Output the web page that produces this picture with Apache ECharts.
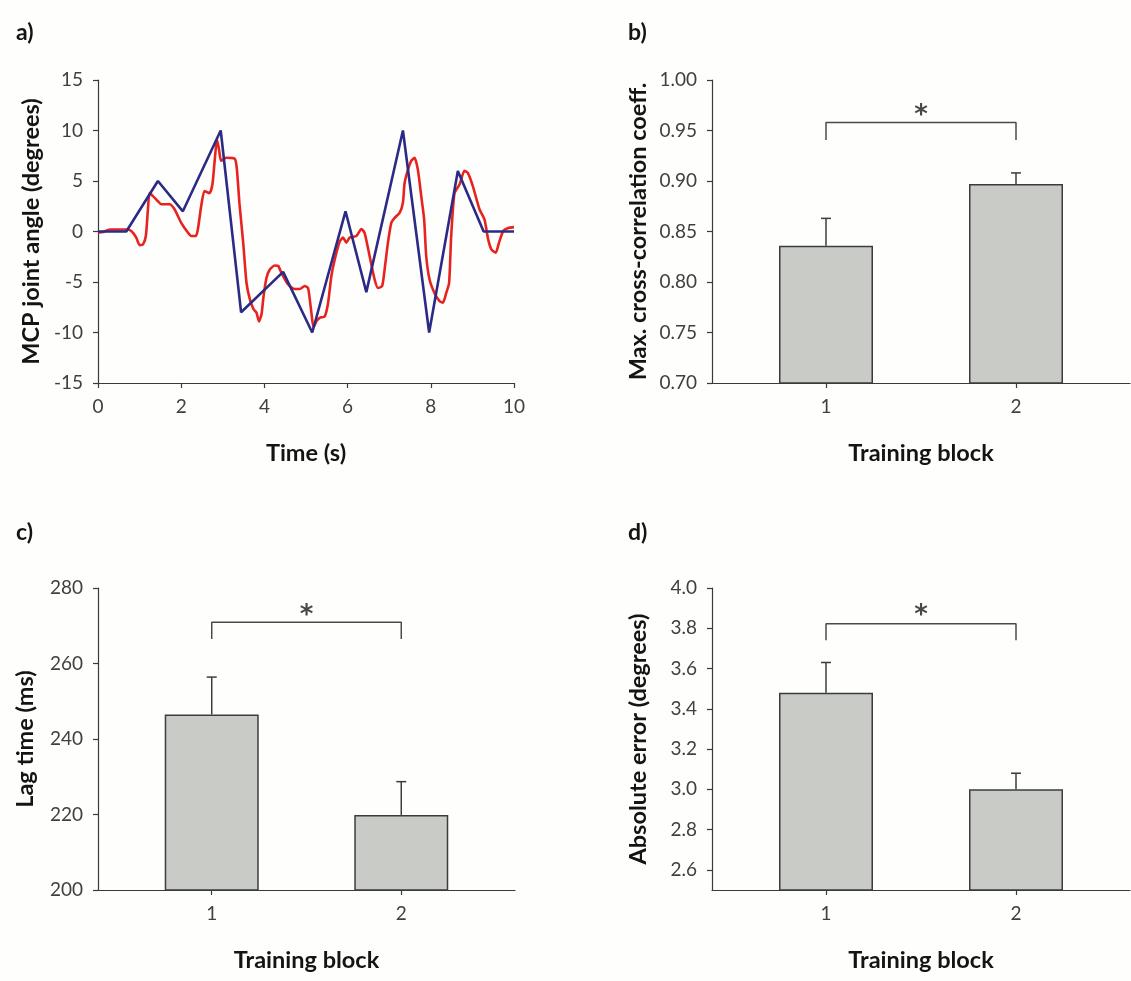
<!DOCTYPE html>
<html>
<head>
<meta charset="utf-8">
<script src="https://cdn.jsdelivr.net/npm/echarts@6/dist/echarts.min.js"></script>
<style>
  html, body { margin: 0; padding: 0; background: #fefefc; }
  #main { width: 1131px; height: 981px; }
</style>
</head>
<body>
<div id="main"></div>
<script>
// panel a: target (blue) and tracking (red) traces
var blueTime = [0, 0.68, 1.44, 2.04, 2.95, 3.44, 4.45, 5.15, 5.95, 6.45, 7.33, 7.96, 8.65, 9.27, 10];
var blueAngle = [0, 0, 5, 2, 10, -8, -4, -10, 2, -6, 10, -10, 6, 0, 0];

var redTime = [0, 0.12, 0.28, 0.68, 0.8, 0.92, 1.0, 1.08, 1.15, 1.2, 1.24, 1.32, 1.44, 1.52, 1.72, 1.84,
  2.0, 2.16, 2.24, 2.35, 2.4, 2.48, 2.56, 2.68, 2.75, 2.8, 2.86, 2.91, 2.96, 3.08, 3.29, 3.34, 3.4,
  3.49, 3.57, 3.65, 3.74, 3.81, 3.87, 3.93, 3.98, 4.05, 4.13, 4.25, 4.33, 4.41, 4.57, 4.73, 4.85,
  4.97, 5.05, 5.13, 5.18, 5.25, 5.33, 5.45, 5.53, 5.61, 5.69, 5.81, 5.89, 5.97, 6.05, 6.21, 6.33,
  6.41, 6.53, 6.65, 6.73, 6.83, 6.89, 6.97, 7.05, 7.13, 7.25, 7.33, 7.37, 7.45, 7.53, 7.61, 7.69,
  7.77, 7.84, 7.89, 7.97, 8.09, 8.21, 8.29, 8.37, 8.44, 8.49, 8.57, 8.69, 8.81, 8.89, 9.01, 9.17,
  9.29, 9.38, 9.46, 9.56, 9.64, 9.74, 9.86, 10];
var redAngle = [-0.1, -0.05, 0.2, 0.2, 0.05, -0.6, -1.35, -1.3, -0.45, 2.2, 3.8, 3.5, 3.0, 2.7, 2.7, 2.2,
  0.86, -0.1, -0.45, -0.45, 0.2, 2.5, 4.0, 3.8, 4.65, 6.8, 9.1, 8.1, 7.0, 7.3, 7.2, 6.1, 2.8,
  -1.1, -5.1, -6.7, -7.7, -8.05, -8.9, -8.2, -6.4, -4.6, -3.76, -3.37, -3.4, -4.1, -5.25, -5.7, -5.7,
  -5.4, -5.6, -8.05, -9.5, -8.9, -8.55, -8.4, -7.1, -4.4, -2.8, -1.0, -0.6, -1.1, -0.6, -0.45, 0.25,
  -0.15, -2.45, -4.75, -5.6, -5.4, -3.76, -1.1, 0.86, 1.35, 1.85, 2.85, 4.8, 6.1, 7.0, 7.3, 6.1,
  3.5, 1.2, -2.45, -4.75, -6.1, -6.9, -7.05, -6.1, -5.1, -0.45, 3.8, 4.65, 6.0, 5.8, 4.5, 2.2,
  1.2, -0.8, -1.8, -2.1, -1.1, 0.05, 0.35, 0.43];

// panels b-d: training blocks
var blocks = [1, 2];
var corrMean = [0.836, 0.897];
var corrErr = [0.027, 0.011];
var lagMean = [246.5, 219.9];
var lagErr = [9.9, 8.8];
var absMean = [3.48, 3.0];
var absErr = [0.15, 0.08];

// significance brackets: [leg bottom, bar top, star height]
var corrSig = [0.9405, 0.958, 0.964];
var lagSig = [266.5, 270.9, 272.6];
var absSig = [3.74, 3.823, 3.86];

var chart = echarts.init(document.getElementById('main'));

var FONT = 'Lato';
var tickText = { color: '#404040', fontFamily: FONT, fontSize: 19 };
var nameText = { color: '#141414', fontFamily: FONT, fontSize: 23.5, fontWeight: 'bold' };
var axisLine = { show: true, onZero: false, lineStyle: { color: '#3a3a3a', width: 1.2 } };
var tickLine = { color: '#3a3a3a', width: 1.2 };

function zip(a, b) {
  return a.map(function (v, i) { return [v, b[i]]; });
}

var grids = [
  { left: 98, top: 80, width: 416, height: 303 },
  { left: 712, top: 80, width: 418, height: 303 },
  { left: 98, top: 588, width: 417, height: 302 },
  { left: 712, top: 588, width: 418, height: 302 }
];

function blockXAxis(idx) {
  return {
    type: 'value', gridIndex: idx, min: 0.4, max: 2.6,
    name: 'Training block', nameLocation: 'middle', nameGap: 58, nameTextStyle: nameText,
    axisLine: axisLine,
    axisTick: { show: true, length: 5, lineStyle: tickLine, customValues: blocks },
    axisLabel: Object.assign({ margin: 14, customValues: blocks }, tickText),
    splitLine: { show: false }
  };
}

var xAxes = [
  {
    type: 'value', gridIndex: 0, min: 0, max: 10, interval: 2,
    name: 'Time (s)', nameLocation: 'middle', nameGap: 58, nameTextStyle: nameText,
    axisLine: axisLine, axisTick: { show: true, length: 5, lineStyle: tickLine },
    axisLabel: Object.assign({ margin: 14 }, tickText),
    splitLine: { show: false }
  },
  blockXAxis(1), blockXAxis(2), blockXAxis(3)
];

function yAxis(idx, name, min, max, interval, dec, gap, custom) {
  var lab = Object.assign({ margin: 15, formatter: function (v) { return v.toFixed(dec); } }, tickText);
  var tick = { show: true, length: 5, lineStyle: tickLine };
  if (custom) { lab.customValues = custom; tick.customValues = custom; }
  return {
    type: 'value', gridIndex: idx, min: min, max: max, interval: interval,
    name: name, nameLocation: 'middle', nameGap: gap, nameTextStyle: nameText,
    axisLine: axisLine, axisTick: tick, axisLabel: lab,
    splitLine: { show: false }
  };
}

var yAxes = [
  yAxis(0, 'MCP joint angle (degrees)', -15, 15, 5, 0, 55),
  yAxis(1, 'Max. cross-correlation coeff.', 0.7, 1.0, 0.05, 2, 62),
  yAxis(2, 'Lag time (ms)', 200, 280, 20, 0, 61),
  yAxis(3, 'Absolute error (degrees)', 2.5, 4.0, 0.1, 1, 62, [2.6, 2.8, 3.0, 3.2, 3.4, 3.6, 3.8, 4.0])
];

function barSeries(idx, means, errs, sig) {
  var out = [];
  out.push({
    type: 'bar', xAxisIndex: idx, yAxisIndex: idx, barWidth: 94,
    data: zip(blocks, means),
    itemStyle: { color: '#c9cbc7', borderColor: '#3c3c3c', borderWidth: 1.5 },
    z: 2
  });
  out.push({
    type: 'custom', xAxisIndex: idx, yAxisIndex: idx, z: 3,
    data: blocks.map(function (b, i) { return [b, means[i], errs[i]]; }),
    renderItem: function (params, api) {
      var p0 = api.coord([api.value(0), api.value(1)]);
      var p1 = api.coord([api.value(0), api.value(1) + api.value(2)]);
      var st = { stroke: '#3c3c3c', lineWidth: 1.5 };
      return {
        type: 'group',
        children: [
          { type: 'line', shape: { x1: p0[0], y1: p0[1], x2: p1[0], y2: p1[1] }, style: st },
          { type: 'line', shape: { x1: p1[0] - 5, y1: p1[1], x2: p1[0] + 5, y2: p1[1] }, style: st }
        ]
      };
    }
  });
  out.push({
    type: 'line', xAxisIndex: idx, yAxisIndex: idx, symbol: 'none', silent: true,
    data: [[blocks[0], sig[0]], [blocks[0], sig[1]], [blocks[1], sig[1]], [blocks[1], sig[0]]],
    lineStyle: { color: '#4a4a4a', width: 1.5 }
  });
  out.push({
    type: 'scatter', xAxisIndex: idx, yAxisIndex: idx, symbolSize: 1,
    itemStyle: { color: 'transparent' },
    data: [[(blocks[0] + blocks[1]) / 2, sig[2]]],
    label: { show: true, position: 'inside', formatter: '*', color: '#1a1a1a',
      fontSize: 26, fontWeight: 'bold', fontFamily: 'DejaVu Sans' }
  });
  return out;
}

var series = [
  {
    type: 'line', xAxisIndex: 0, yAxisIndex: 0, symbol: 'none', smooth: 0.2,
    data: zip(redTime, redAngle),
    lineStyle: { color: '#e8231f', width: 2.6 }, z: 2
  },
  {
    type: 'line', xAxisIndex: 0, yAxisIndex: 0, symbol: 'none',
    data: zip(blueTime, blueAngle),
    lineStyle: { color: '#2b2b86', width: 2.6 }, z: 3
  }
].concat(barSeries(1, corrMean, corrErr, corrSig))
 .concat(barSeries(2, lagMean, lagErr, lagSig))
 .concat(barSeries(3, absMean, absErr, absSig));

var panelLabel = { fontFamily: FONT, fontSize: 23, fontWeight: 'bold', color: '#141414' };

var option = {
  backgroundColor: '#fefefc',
  animation: false,
  title: [
    { text: 'a)', left: 11, top: 16, textStyle: panelLabel },
    { text: 'b)', left: 623, top: 16, textStyle: panelLabel },
    { text: 'c)', left: 11, top: 516, textStyle: panelLabel },
    { text: 'd)', left: 623, top: 516, textStyle: panelLabel }
  ],
  grid: grids,
  xAxis: xAxes,
  yAxis: yAxes,
  series: series
};
chart.setOption(option);
</script>
</body>
</html>
